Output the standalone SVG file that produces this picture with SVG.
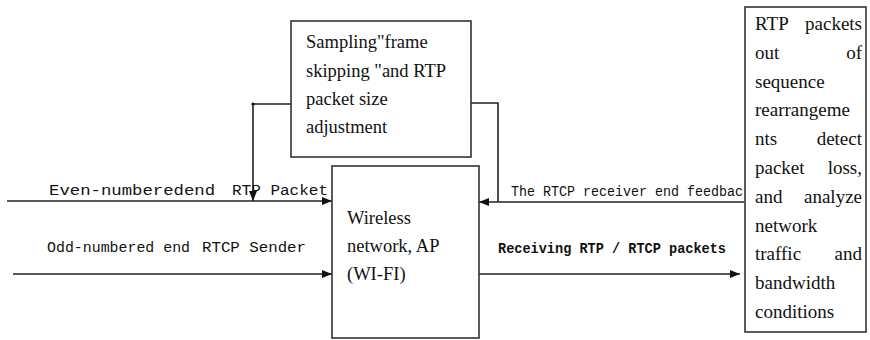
<svg xmlns="http://www.w3.org/2000/svg" width="870" height="340" viewBox="0 0 870 340">
<style>
.box{fill:#fff;stroke:#333;stroke-width:1.6}
.ln{fill:none;stroke:#222;stroke-width:1.6}
.sf{font-family:"Liberation Serif","Times New Roman",serif;font-size:18.5px;fill:#111}
.rt{font-size:19px}
.mono{font-family:"Liberation Mono","Courier New",monospace;font-size:14px;fill:#111}
</style>
<defs>
<marker id="arr" viewBox="0 0 10 10" refX="10" refY="5" markerWidth="10" markerHeight="10" markerUnits="userSpaceOnUse" orient="auto">
<path d="M0,1 L10,5 L0,9 Z" fill="#111"/>
</marker>
</defs>
<g id="connectors">
<line class="ln" x1="7" y1="201" x2="332" y2="201" marker-end="url(#arr)"/>
<line class="ln" x1="13" y1="274" x2="332" y2="274" marker-end="url(#arr)"/>
<polyline class="ln" points="291,104 253,104 253,201" marker-end="url(#arr)"/>
<circle cx="253" cy="104" r="1.6" fill="#111"/>
<polyline class="ln" points="471,103 498,103 498,202"/>
<line class="ln" x1="744" y1="202" x2="479" y2="202" marker-end="url(#arr)"/>
<line class="ln" x1="479" y1="274" x2="740" y2="274" marker-end="url(#arr)"/>
<text class="mono" x="49" y="195" textLength="166" lengthAdjust="spacingAndGlyphs">Even-numberedend</text>
<text class="mono" x="232" y="195" textLength="96" lengthAdjust="spacingAndGlyphs">RTP Packet</text>
<text class="mono" x="47" y="252" textLength="143" lengthAdjust="spacingAndGlyphs">Odd-numbered end</text>
<text class="mono" x="202" y="252" textLength="104" lengthAdjust="spacingAndGlyphs">RTCP Sender</text>
<text class="mono" x="511" y="196" textLength="232" lengthAdjust="spacingAndGlyphs">The RTCP receiver end feedbac</text>
<text class="mono" x="498" y="253" textLength="228" lengthAdjust="spacingAndGlyphs" font-weight="bold">Receiving RTP / RTCP packets</text>
</g>
<g id="sampling">
<rect class="box" x="291" y="21" width="180" height="136"/>
<text class="sf" x="306" y="48">Sampling"frame</text>
<text class="sf" x="306" y="77">skipping "and RTP</text>
<text class="sf" x="306" y="105">packet size</text>
<text class="sf" x="306" y="133">adjustment</text>
</g>
<g id="wireless">
<rect class="box" x="332" y="166" width="147" height="172"/>
<text class="sf" x="347" y="224">Wireless</text>
<text class="sf" x="347" y="252">network, AP</text>
<text class="sf" x="347" y="280">(WI-FI)</text>
</g>
<g id="analysis">
<rect class="box" x="745" y="7" width="121" height="325"/>
<text class="sf rt" x="755" y="30">RTP<tspan x="862" text-anchor="end">packets</tspan></text>
<text class="sf rt" x="755" y="59">out<tspan x="862" text-anchor="end">of</tspan></text>
<text class="sf rt" x="755" y="88">sequence</text>
<text class="sf rt" x="755" y="116">rearrangeme</text>
<text class="sf rt" x="755" y="145">nts<tspan x="862" text-anchor="end">detect</tspan></text>
<text class="sf rt" x="755" y="174">packet<tspan x="862" text-anchor="end">loss,</tspan></text>
<text class="sf rt" x="755" y="203">and<tspan x="862" text-anchor="end">analyze</tspan></text>
<text class="sf rt" x="755" y="232">network</text>
<text class="sf rt" x="755" y="260">traffic<tspan x="862" text-anchor="end">and</tspan></text>
<text class="sf rt" x="755" y="289">bandwidth</text>
<text class="sf rt" x="755" y="318">conditions</text>
</g>
</svg>
